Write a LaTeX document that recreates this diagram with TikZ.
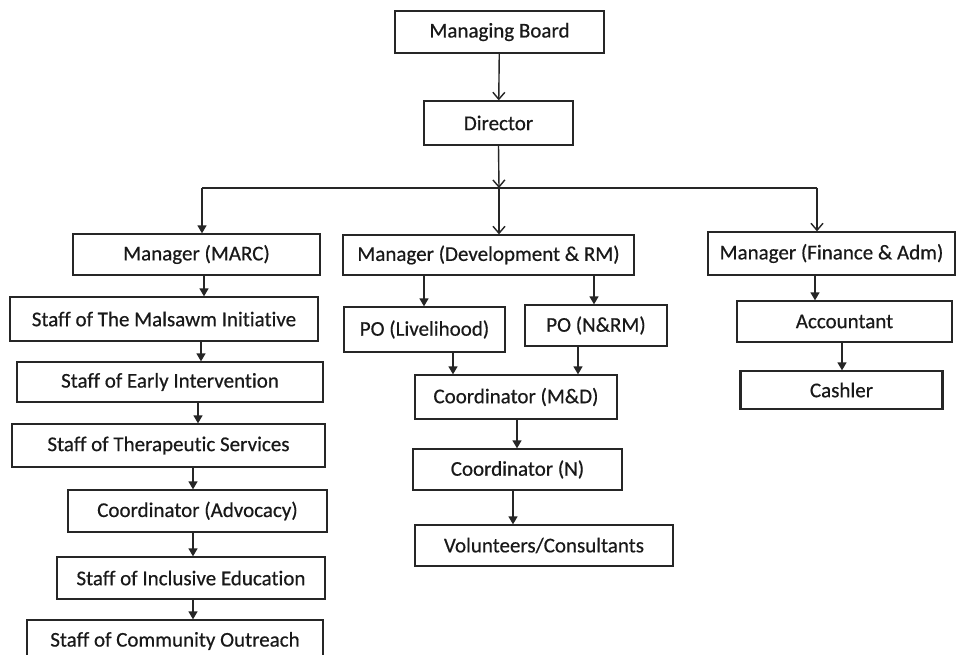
\documentclass[tikz,border=0pt]{standalone}
\usepackage{fontspec}
\setmainfont{Carlito}[FakeBold=0.5, Ligatures=NoCommon]
\usetikzlibrary{arrows.meta}
\begin{document}
\begin{tikzpicture}[x=1pt,y=-1pt,
  box/.style={draw=black!85, line width=1.3pt, rectangle, inner sep=0pt, font=\fontsize{21}{24}\selectfont, text=black!90},
  fa/.style={draw=black!85, line width=1.4pt, -{Triangle[length=8pt,width=9pt]}},
  oa/.style={draw=black!85, line width=1.4pt, -{Straight Barb[length=7pt,width=12pt,line width=1.4pt]}}]
\fill[white] (0,0) rectangle (961,655);
\useasboundingbox (0,0) rectangle (961,655);
% top
\node[box, minimum width=209pt, minimum height=42pt] (mb) at (499.5,32) {Managing Board};
\node[box, minimum width=149pt, minimum height=44pt] (dir) at (498.5,123) {Director};
% left column
\node[box, minimum width=247pt, minimum height=41pt] (marc) at (196.5,254.5) {Manager (MARC)};
\node[box, minimum width=308pt, minimum height=44pt] (mal) at (164,319) {Staff of The Malsawm Initiative};
\node[box, minimum width=306pt, minimum height=40pt] (early) at (170,382) {Staff of Early Intervention};
\node[box, minimum width=313pt, minimum height=43pt] (thera) at (168.5,445.5) {Staff of Therapeutic Services};
\node[box, minimum width=259pt, minimum height=42pt] (adv) at (197.5,511) {Coordinator (Advocacy)};
\node[box, minimum width=268pt, minimum height=42pt] (incl) at (191,578) {Staff of Inclusive Education};
\node[box, minimum width=296pt, minimum height=42pt] (comm) at (175,641) {Staff of Community Outreach};
% middle column
\node[box, minimum width=291pt, minimum height=40pt] (dev) at (488.5,255) {Manager (Development \& RM)};
\node[box, minimum width=161pt, minimum height=45pt] (liv) at (424.5,329.5) {PO (Livelihood)};
\node[box, minimum width=142pt, minimum height=41pt] (nrm) at (596,325.5) {PO (N\&RM)};
\node[box, minimum width=202pt, minimum height=44pt] (md) at (516,397) {Coordinator (M\&D)};
\node[box, minimum width=209pt, minimum height=41pt] (cn) at (517.5,469.5) {Coordinator (N)};
\node[box, minimum width=258pt, minimum height=41pt] (vol) at (544,545.5) {Volunteers/Consultants};
% right column
\node[box, minimum width=247pt, minimum height=43pt] (fin) at (831.5,253.5) {Manager (Finance \& Adm)};
\node[box, minimum width=215pt, minimum height=41pt] (acc) at (844.5,321.5) {Accountant};
\node[box, minimum width=201pt, minimum height=38pt] (cash) at (841.5,390) {Cashler};
\draw[black!85, line width=3pt] (cash.north west) -- (cash.south west);
\draw[black!85, line width=3pt] (cash.north east) -- (cash.south east);
% bus
\coordinate (busL) at (202,188);
\coordinate (busM) at (499,188);
\coordinate (busR) at (817,188);
\draw[black!85, line width=1.4pt] (busL) -- (busR);
% connectors
\draw[oa] (mb) -- (dir);
\draw[oa] (498.5,0 |- dir.south) -- (busM);
\draw[fa] (busL) -- (busL |- marc.north);
\draw[oa] (busM) -- (busM |- dev.north);
\draw[oa] (busR) -- (busR |- fin.north);
\draw[fa] (204,0 |- marc.south) -- (204,0 |- mal.north);
\draw[fa] (201,0 |- mal.south) -- (201,0 |- early.north);
\draw[fa] (198,0 |- early.south) -- (198,0 |- thera.north);
\draw[fa] (193,0 |- thera.south) -- (193,0 |- adv.north);
\draw[fa] (193,0 |- adv.south) -- (193,0 |- incl.north);
\draw[fa] (193,0 |- incl.south) -- (193,0 |- comm.north);
\draw[fa] (424,0 |- dev.south) -- (424,0 |- liv.north);
\draw[fa] (594,0 |- dev.south) -- (594,0 |- nrm.north);
\draw[fa] (453,0 |- liv.south) -- (453,0 |- md.north);
\draw[fa] (578,0 |- nrm.south) -- (578,0 |- md.north);
\draw[fa] (517,0 |- md.south) -- (517,0 |- cn.north);
\draw[fa] (513,0 |- cn.south) -- (513,0 |- vol.north);
\draw[fa] (815,0 |- fin.south) -- (815,0 |- acc.north);
\draw[fa] (842,0 |- acc.south) -- (842,0 |- cash.north);
\end{tikzpicture}
\end{document}
